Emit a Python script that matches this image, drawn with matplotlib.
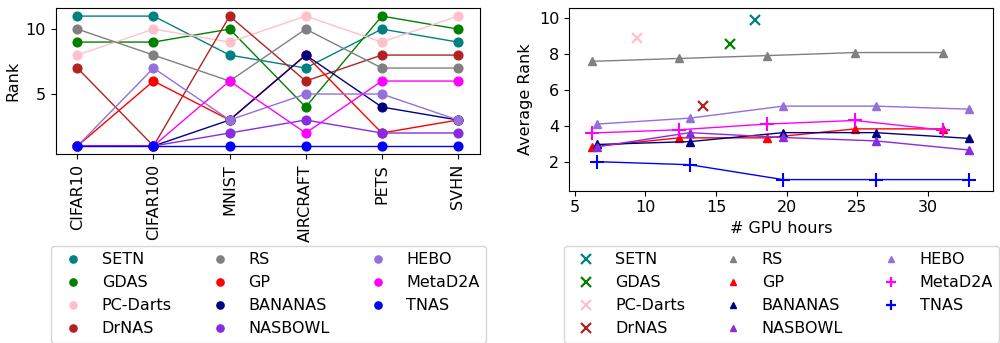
import matplotlib
matplotlib.use("Agg")
import matplotlib.pyplot as plt
from matplotlib.lines import Line2D

plt.rcParams['font.family'] = ['DejaVu Sans']
FS = 11.5

datasets = ["CIFAR10", "CIFAR100", "MNIST", "AIRCRAFT", "PETS", "SVHN"]
methods = ["SETN", "GDAS", "PC-Darts", "DrNAS", "RS", "GP", "BANANAS", "NASBOWL", "HEBO", "MetaD2A", "TNAS"]
colors = {"SETN": "teal", "GDAS": "green", "PC-Darts": "pink", "DrNAS": "firebrick",
          "RS": "gray", "GP": "red", "BANANAS": "navy", "NASBOWL": "blueviolet",
          "HEBO": "mediumpurple", "MetaD2A": "magenta", "TNAS": "blue"}

# Rank per dataset (left panel)
rank_setn = [11, 11, 8, 7, 10, 9]
rank_gdas = [9, 9, 10, 4, 11, 10]
rank_pcdarts = [8, 10, 9, 11, 9, 11]
rank_drnas = [7, 1, 11, 6, 8, 8]
rank_rs = [10, 8, 6, 10, 7, 7]
rank_gp = [1, 6, 3, 8, 2, 3]
rank_bananas = [1, 1, 3, 8, 4, 3]
rank_nasbowl = [1, 1, 2, 3, 2, 2]
rank_hebo = [1, 7, 3, 5, 5, 3]
rank_metad2a = [1, 1, 6, 2, 6, 6]
rank_tnas = [1, 1, 1, 1, 1, 1]
ranks = {"SETN": rank_setn, "GDAS": rank_gdas, "PC-Darts": rank_pcdarts, "DrNAS": rank_drnas,
         "RS": rank_rs, "GP": rank_gp, "BANANAS": rank_bananas, "NASBOWL": rank_nasbowl,
         "HEBO": rank_hebo, "MetaD2A": rank_metad2a, "TNAS": rank_tnas}

# Average rank vs GPU hours (right panel)
hours_oneshot = {"SETN": 17.74, "GDAS": 15.97, "PC-Darts": 9.44, "DrNAS": 14.08}
avg_oneshot = {"SETN": 9.93, "GDAS": 8.56, "PC-Darts": 8.88, "DrNAS": 5.10}
hours_a = [6.2, 12.4, 18.6, 24.85, 31.05]
hours_b = [6.6, 13.15, 19.75, 26.3, 32.9]
avg_rs = [7.6, 7.76, 7.92, 8.09, 8.09]
avg_gp = [2.83, 3.33, 3.33, 3.83, 3.83]
avg_metad2a = [3.6, 3.78, 4.1, 4.3, 3.76]
avg_bananas = [2.96, 3.12, 3.62, 3.62, 3.3]
avg_nasbowl = [2.83, 3.62, 3.35, 3.16, 2.65]
avg_hebo = [4.1, 4.43, 5.1, 5.1, 4.93]
avg_tnas = [2.0, 1.83, 1.0, 1.0, 1.0]
bo_series = [("RS", hours_a, avg_rs, "^"), ("GP", hours_a, avg_gp, "^"),
             ("BANANAS", hours_b, avg_bananas, "^"), ("NASBOWL", hours_b, avg_nasbowl, "^"),
             ("HEBO", hours_b, avg_hebo, "^"), ("MetaD2A", hours_a, avg_metad2a, "+"),
             ("TNAS", hours_b, avg_tnas, "+")]

W, H = 1000, 343
fig = plt.figure(figsize=(W / 100, H / 100), dpi=100)

def rect(x0, y0, x1, y1):
    return [x0 / W, 1 - y1 / H, (x1 - x0) / W, (y1 - y0) / H]

ax1 = fig.add_axes(rect(55.7, 8.3, 480, 154.3))
xs = list(range(len(datasets)))
for m in methods:
    ax1.plot(xs, ranks[m], color=colors[m], marker="o", markersize=6.3, lw=1)
ax1.set_xticks(xs)
ax1.set_xticklabels(datasets, rotation=90, fontsize=FS)
ax1.set_yticks([5, 10])
ax1.tick_params(axis='y', labelsize=FS)
ax1.set_ylabel("Rank", fontsize=FS)
ax1.set_xlim(-0.285, 5.29)
ax1.set_ylim(0.36, 11.6)

ax2 = fig.add_axes(rect(569, 8.3, 993, 190.7))
for m in ["SETN", "GDAS", "PC-Darts", "DrNAS"]:
    ax2.plot([hours_oneshot[m]], [avg_oneshot[m]], ls="none", marker="x", color=colors[m],
             markersize=7.5, mew=1.6)
for m, hx, hy, mk in bo_series:
    if mk == "+":
        ax2.plot(hx, hy, color=colors[m], marker=mk, markersize=9.5, mew=1.5, lw=1)
    else:
        ax2.plot(hx, hy, color=colors[m], marker=mk, markersize=6, lw=1)
ax2.set_xlim(4.6, 34.6)
ax2.set_ylim(0.38, 10.56)
ax2.set_xticks([5, 10, 15, 20, 25, 30])
ax2.set_yticks([2, 4, 6, 8, 10])
ax2.tick_params(labelsize=FS)
ax2.set_xlabel("# GPU hours", fontsize=FS)
ax2.set_ylabel("Average Rank", fontsize=FS)

# Legends
h1 = [Line2D([], [], ls="none", marker="o", color=colors[m], markersize=5.2) for m in methods]
fig.legend(h1, methods, loc="upper left", bbox_to_anchor=(50.7 / W, 1 - 246 / H),
           borderaxespad=0, ncol=3, fontsize=FS, frameon=True)
mk2 = {"SETN": "x", "GDAS": "x", "PC-Darts": "x", "DrNAS": "x", "RS": "^", "GP": "^",
       "BANANAS": "^", "NASBOWL": "^", "HEBO": "^", "MetaD2A": "+", "TNAS": "+"}
h2 = []
for m in methods:
    if mk2[m] == "^":
        h2.append(Line2D([], [], ls="none", marker="^", color=colors[m], markersize=4.5))
    else:
        h2.append(Line2D([], [], ls="none", marker=mk2[m], color=colors[m], markersize=7.5, mew=1.6))
fig.legend(h2, methods, loc="upper left", bbox_to_anchor=(564 / W, 1 - 246 / H),
           borderaxespad=0, ncol=3, fontsize=FS, frameon=True)

fig.savefig("out.png", dpi=100)
